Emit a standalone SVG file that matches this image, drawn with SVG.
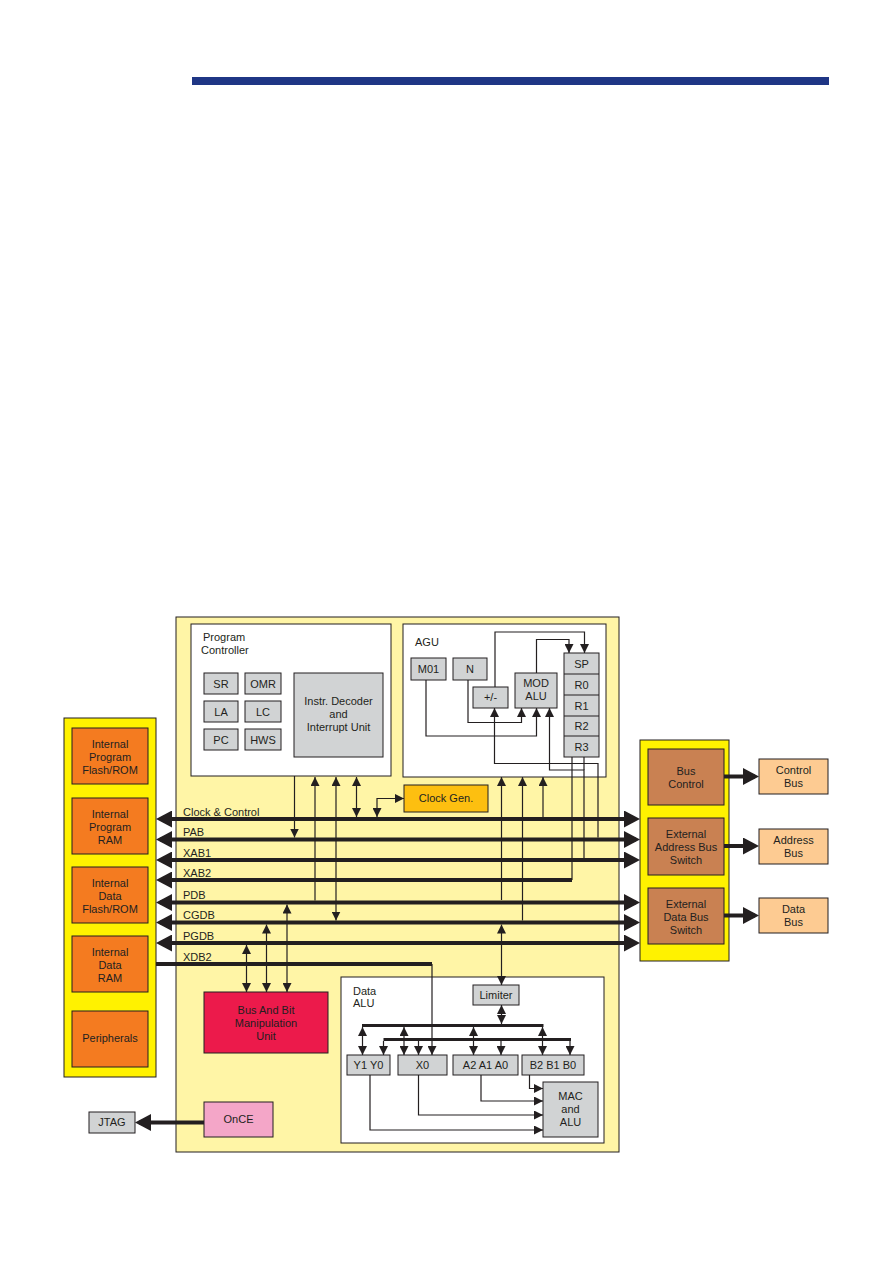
<svg xmlns="http://www.w3.org/2000/svg" width="893" height="1263" viewBox="0 0 893 1263">
<style>
text{font-family:"Liberation Sans",Arial,sans-serif;font-size:11px;fill:#231F20}
.c{text-anchor:middle}
.box{stroke:#231F20;stroke-width:1}
.gray{fill:#D1D3D4}
.white{fill:#FFFFFF}
.orange{fill:#F47B20}
.brown{fill:#C98152}
.lorange{fill:#FDCB92}
.yel{fill:#FFF200}
.lyel{fill:#FFF5A6}
.bus{stroke:#231F20;stroke-width:4;fill:none}
.thin{stroke:#231F20;stroke-width:1.2;fill:none}
.mid{stroke:#231F20;stroke-width:3;fill:none}
.a{marker-end:url(#ah)}
.aa{marker-start:url(#ah);marker-end:url(#ah)}
.as{marker-start:url(#ah)}
.B{marker-end:url(#bh)}
.BB{marker-start:url(#bh);marker-end:url(#bh)}
.Bs{marker-start:url(#bh)}
</style>
<defs>
<marker id="ah" markerUnits="userSpaceOnUse" markerWidth="9" markerHeight="9" refX="8" refY="4" orient="auto-start-reverse" viewBox="0 0 8 8"><path d="M0,0 L8,4 L0,8 z" fill="#231F20"/></marker>
<marker id="bh" markerUnits="userSpaceOnUse" markerWidth="16" markerHeight="17" refX="12" refY="8.5" orient="auto-start-reverse" viewBox="0 0 16 17"><path d="M0,0 L16,8.5 L0,17 z" fill="#231F20"/></marker>
</defs>
<rect x="192" y="77" width="637" height="8" fill="#1F3685"/>

<g id="core">
<rect x="176" y="617" width="443" height="535" class="box lyel"/>
</g>

<g id="program-controller">
<rect x="191" y="624" width="200" height="152" class="box white"/>
<text x="203" y="641">Program</text>
<text x="201" y="654">Controller</text>
</g>
<g id="sr"><rect x="204" y="673" width="34" height="21" class="box gray"/><text x="221" y="688" class="c">SR</text></g>
<g id="omr"><rect x="245" y="673" width="36" height="21" class="box gray"/><text x="263" y="688" class="c">OMR</text></g>
<g id="la"><rect x="204" y="701" width="34" height="21" class="box gray"/><text x="221" y="716" class="c">LA</text></g>
<g id="lc"><rect x="245" y="701" width="36" height="21" class="box gray"/><text x="263" y="716" class="c">LC</text></g>
<g id="pc"><rect x="204" y="729" width="34" height="21" class="box gray"/><text x="221" y="744" class="c">PC</text></g>
<g id="hws"><rect x="245" y="729" width="36" height="21" class="box gray"/><text x="263" y="744" class="c">HWS</text></g>
<g id="decoder"><rect x="294" y="673" width="89" height="84" class="box gray"/>
<text x="338.5" y="705" class="c">Instr. Decoder</text><text x="338.5" y="718" class="c">and</text><text x="338.5" y="731" class="c">Interrupt Unit</text></g>

<g id="agu">
<rect x="403" y="624" width="203" height="153" class="box white"/>
<text x="415" y="646">AGU</text>
</g>
<g id="m01"><rect x="411" y="658" width="35" height="22" class="box gray"/><text x="428.5" y="673" class="c">M01</text></g>
<g id="n"><rect x="453" y="658" width="34" height="22" class="box gray"/><text x="470" y="673" class="c">N</text></g>
<g id="plusminus"><rect x="473" y="687" width="35" height="21" class="box gray"/><text x="490.5" y="701" class="c">+/-</text></g>
<g id="modalu"><rect x="515" y="673" width="42" height="35" class="box gray"/><text x="536" y="687" class="c">MOD</text><text x="536" y="700" class="c">ALU</text></g>
<g id="regs">
<rect x="564" y="653" width="35" height="104" class="box gray"/>
<line x1="564" y1="674" x2="599" y2="674" class="box"/>
<line x1="564" y1="695" x2="599" y2="695" class="box"/>
<line x1="564" y1="716" x2="599" y2="716" class="box"/>
<line x1="564" y1="736" x2="599" y2="736" class="box"/>
<text x="581.5" y="668" class="c">SP</text>
<text x="581.5" y="689" class="c">R0</text>
<text x="581.5" y="710" class="c">R1</text>
<text x="581.5" y="730" class="c">R2</text>
<text x="581.5" y="751" class="c">R3</text>
</g>

<g id="clock-gen"><rect x="404" y="785" width="84" height="27" class="box" fill="#FDBF10"/><text x="446" y="802" class="c">Clock Gen.</text></g>

<g id="left-memory"><rect x="64" y="718" width="92" height="359" class="box yel"/></g>
<g id="ipflash"><rect x="72" y="728" width="76" height="56" class="box orange"/><text x="110" y="748" class="c">Internal</text><text x="110" y="761" class="c">Program</text><text x="110" y="774" class="c">Flash/ROM</text></g>
<g id="ipram"><rect x="72" y="798" width="76" height="56" class="box orange"/><text x="110" y="818" class="c">Internal</text><text x="110" y="831" class="c">Program</text><text x="110" y="844" class="c">RAM</text></g>
<g id="idflash"><rect x="72" y="867" width="76" height="56" class="box orange"/><text x="110" y="887" class="c">Internal</text><text x="110" y="900" class="c">Data</text><text x="110" y="913" class="c">Flash/ROM</text></g>
<g id="idram"><rect x="72" y="936" width="76" height="56" class="box orange"/><text x="110" y="956" class="c">Internal</text><text x="110" y="969" class="c">Data</text><text x="110" y="982" class="c">RAM</text></g>
<g id="peripherals"><rect x="72" y="1011" width="76" height="56" class="box orange"/><text x="110" y="1042" class="c">Peripherals</text></g>

<g id="right-bus"><rect x="640" y="740" width="89" height="221" class="box yel"/></g>
<g id="bus-control"><rect x="648" y="749" width="76" height="56" class="box brown"/><text x="686" y="775" class="c">Bus</text><text x="686" y="788" class="c">Control</text></g>
<g id="ext-addr"><rect x="648" y="818" width="76" height="57" class="box brown"/><text x="686" y="838" class="c">External</text><text x="686" y="851" class="c">Address Bus</text><text x="686" y="864" class="c">Switch</text></g>
<g id="ext-data"><rect x="648" y="888" width="76" height="56" class="box brown"/><text x="686" y="908" class="c">External</text><text x="686" y="921" class="c">Data Bus</text><text x="686" y="934" class="c">Switch</text></g>
<g id="control-bus"><rect x="759" y="759" width="69" height="35" class="box lorange"/><text x="793.5" y="774" class="c">Control</text><text x="793.5" y="787" class="c">Bus</text></g>
<g id="address-bus"><rect x="759" y="829" width="69" height="35" class="box lorange"/><text x="793.5" y="844" class="c">Address</text><text x="793.5" y="857" class="c">Bus</text></g>
<g id="data-bus"><rect x="759" y="898" width="69" height="35" class="box lorange"/><text x="793.5" y="913" class="c">Data</text><text x="793.5" y="926" class="c">Bus</text></g>

<g id="bus-bit"><rect x="204" y="992" width="124" height="61" class="box" fill="#EC1A4B"/><text x="266" y="1014" class="c">Bus And Bit</text><text x="266" y="1027" class="c">Manipulation</text><text x="266" y="1040" class="c">Unit</text></g>
<g id="once"><rect x="204" y="1102" width="69" height="35" class="box" fill="#F4A6C8"/><text x="238.5" y="1123" class="c">OnCE</text></g>
<g id="jtag"><rect x="89" y="1112" width="46" height="21" class="box gray"/><text x="112" y="1126" class="c">JTAG</text></g>

<g id="data-alu"><rect x="341" y="977" width="263" height="166" class="box white"/><text x="353" y="995">Data</text><text x="353" y="1007">ALU</text></g>
<g id="limiter"><rect x="473" y="985" width="46" height="20" class="box gray"/><text x="496" y="999" class="c">Limiter</text></g>
<g id="y1y0"><rect x="347" y="1055" width="43" height="20" class="box gray"/><text x="368.5" y="1069" class="c">Y1 Y0</text></g>
<g id="x0"><rect x="398" y="1055" width="49" height="20" class="box gray"/><text x="422.5" y="1069" class="c">X0</text></g>
<g id="a-regs"><rect x="453" y="1055" width="65" height="20" class="box gray"/><text x="485.5" y="1069" class="c">A2 A1 A0</text></g>
<g id="b-regs"><rect x="522" y="1055" width="62" height="20" class="box gray"/><text x="553" y="1069" class="c">B2 B1 B0</text></g>
<g id="mac"><rect x="543" y="1082" width="55" height="55" class="box gray"/><text x="570.5" y="1100" class="c">MAC</text><text x="570.5" y="1113" class="c">and</text><text x="570.5" y="1126" class="c">ALU</text></g>

<g id="connectors">
<!-- bus labels -->
<text x="183" y="816">Clock &amp; Control</text>
<text x="183" y="836">PAB</text>
<text x="183" y="857">XAB1</text>
<text x="183" y="877">XAB2</text>
<text x="183" y="899">PDB</text>
<text x="183" y="919">CGDB</text>
<text x="183" y="940">PGDB</text>
<text x="183" y="961">XDB2</text>
<!-- main buses -->
<line x1="160" y1="819" x2="636" y2="819" class="bus BB"/>
<line x1="160" y1="839.5" x2="636" y2="839.5" class="bus BB"/>
<line x1="160" y1="860" x2="636" y2="860" class="bus BB"/>
<line x1="160" y1="880" x2="572" y2="880" class="bus Bs"/>
<line x1="160" y1="902.5" x2="636" y2="902.5" class="bus BB"/>
<line x1="160" y1="922.5" x2="636" y2="922.5" class="bus BB"/>
<line x1="160" y1="943" x2="636" y2="943" class="bus BB"/>
<line x1="156" y1="964" x2="432" y2="964" class="bus"/>
<!-- external -->
<line x1="724" y1="776.5" x2="755" y2="776.5" class="bus B"/>
<line x1="724" y1="846" x2="755" y2="846" class="bus B"/>
<line x1="724" y1="915.5" x2="755" y2="915.5" class="bus B"/>
<line x1="204" y1="1122.5" x2="139" y2="1122.5" class="bus B"/>
<!-- program controller links -->
<line x1="294.5" y1="776" x2="294.5" y2="837.5" class="thin a"/>
<line x1="315" y1="900.5" x2="315" y2="777" class="thin a"/>
<line x1="336" y1="777" x2="336" y2="920.5" class="thin aa"/>
<line x1="356.5" y1="777" x2="356.5" y2="817" class="thin aa"/>
<polyline points="377,817 377,798.5 404,798.5" class="thin aa"/>
<!-- AGU links to buses -->
<line x1="543" y1="817" x2="543" y2="777" class="thin a"/>
<line x1="522.5" y1="920.5" x2="522.5" y2="777" class="thin a"/>
<line x1="501.5" y1="900" x2="501.5" y2="777" class="thin a"/>
<line x1="501.5" y1="924.5" x2="501.5" y2="985" class="thin aa"/>
<!-- AGU internal -->
<polyline points="536.5,673 536.5,639.5 569,639.5 569,653" class="thin a"/>
<polyline points="495,687 495,632 584.5,632 584.5,653" class="thin a"/>
<polyline points="426,680 426,736 536.5,736 536.5,708" class="thin a"/>
<polyline points="468,680 468,722.5 521.5,722.5 521.5,708" class="thin a"/>
<polyline points="598,837.5 598,763.5 494.5,763.5 494.5,708" class="thin a"/>
<polyline points="584,858 584,770 549.5,770 549.5,708" class="thin a"/>
<polyline points="584,757 584,770" class="thin"/>
<polyline points="572,757 572,880" class="thin"/>
<!-- Bus and bit links -->
<line x1="246.5" y1="945" x2="246.5" y2="992" class="thin aa"/>
<line x1="266.5" y1="924.5" x2="266.5" y2="992" class="thin aa"/>
<line x1="287" y1="904.5" x2="287" y2="992" class="thin aa"/>
<!-- Data ALU -->
<line x1="432" y1="964" x2="432" y2="1055" class="thin a"/>
<line x1="501.5" y1="1005" x2="501.5" y2="1024" class="thin aa"/>
<line x1="362" y1="1025.5" x2="543.5" y2="1025.5" class="mid"/>
<line x1="383.5" y1="1039.5" x2="571" y2="1039.5" class="mid"/>
<line x1="362.5" y1="1027" x2="362.5" y2="1055" class="thin aa"/>
<line x1="404" y1="1027" x2="404" y2="1055" class="thin aa"/>
<line x1="473.5" y1="1027" x2="473.5" y2="1055" class="thin aa"/>
<line x1="542.5" y1="1027" x2="542.5" y2="1055" class="thin aa"/>
<line x1="383.5" y1="1041" x2="383.5" y2="1055" class="thin a"/>
<line x1="418.5" y1="1041" x2="418.5" y2="1055" class="thin a"/>
<line x1="501" y1="1041" x2="501" y2="1055" class="thin a"/>
<line x1="570" y1="1041" x2="570" y2="1055" class="thin a"/>
<polyline points="529.5,1075 529.5,1088.5 543,1088.5" class="thin a"/>
<polyline points="481,1075 481,1101 543,1101" class="thin a"/>
<polyline points="418.5,1075 418.5,1115 543,1115" class="thin a"/>
<polyline points="370,1075 370,1130 543,1130" class="thin a"/>
</g>
</svg>
